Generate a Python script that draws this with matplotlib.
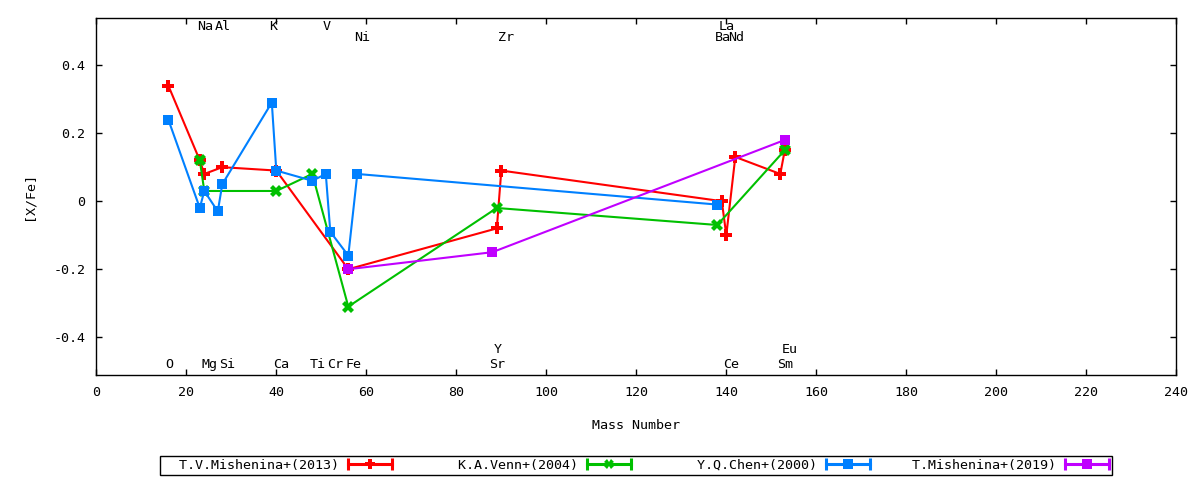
import matplotlib
matplotlib.use("Agg")
import matplotlib.pyplot as plt
from matplotlib.lines import Line2D
from matplotlib.legend_handler import HandlerLine2D, HandlerTuple

# ---- data ----
red_mass = [16, 23, 24, 28, 40, 56, 89, 90, 139, 140, 142, 152, 153]
red_val = [0.34, 0.12, 0.08, 0.10, 0.09, -0.20, -0.08, 0.09, 0.00, -0.10, 0.13, 0.08, 0.15]

green_mass = [23, 24, 40, 48, 56, 89, 138, 153]
green_val = [0.12, 0.03, 0.03, 0.08, -0.31, -0.02, -0.07, 0.15]

blue_mass = [16, 23, 24, 27, 28, 39, 40, 48, 51, 52, 56, 58, 138]
blue_val = [0.24, -0.02, 0.03, -0.03, 0.05, 0.29, 0.09, 0.06, 0.08, -0.09, -0.16, 0.08, -0.01]

purple_mass = [56, 88, 153]
purple_val = [-0.20, -0.15, 0.18]

series_names = ["T.V.Mishenina+(2013)", "K.A.Venn+(2004)", "Y.Q.Chen+(2000)", "T.Mishenina+(2019)"]

label_names = ["Na", "Al", "K", "V", "La", "Ni", "Zr", "Ba", "Nd",
               "O", "Mg", "Si", "Ca", "Ti", "Cr", "Fe", "Sr", "Ce", "Sm", "Y", "Eu"]
label_mass = [23, 27, 39, 51, 139, 58, 90, 138, 141,
              16, 24, 28, 40, 48, 52, 56, 88, 140, 152, 89, 153]
label_row = [0.502] * 5 + [0.472] * 4 + [-0.489] * 10 + [-0.447] * 2

xticks = [0, 20, 40, 60, 80, 100, 120, 140, 160, 180, 200, 220, 240]
yticks = [-0.4, -0.2, 0, 0.2, 0.4]
ytick_labels = ["-0.4", "-0.2", "0", "0.2", "0.4"]

# ---- style ----
FONT = "DejaVu Sans Mono"
FS = 9.6
plt.rcParams["font.family"] = [FONT, "DejaVu Sans"]
plt.rcParams["font.size"] = FS

colors = ["#ff0000", "#00c000", "#0080ff", "#c000ff"]
markers = ["P", "X", "s", "s"]
msizes = [8, 8, 7.5, 7.5]

fig = plt.figure(figsize=(12, 4.8), dpi=100)
ax = fig.add_axes([96.3 / 1200, 1 - 375 / 480, 1080 / 1200, (375 - 17.5) / 480])

data = [(red_mass, red_val), (green_mass, green_val), (blue_mass, blue_val), (purple_mass, purple_val)]
for i, (m, v) in enumerate(data):
    ax.plot(m, v, color=colors[i], lw=1.5, marker=markers[i], markersize=msizes[i],
            markeredgewidth=0, zorder=2 + i)

for name, m, y in zip(label_names, label_mass, label_row):
    ax.text(m - 0.65, y, name, ha="left", va="baseline", fontsize=FS, family=FONT, color="black")

ax.set_xlim(0, 240)
ax.set_ylim(-0.511, 0.54)
ax.set_xticks(xticks)
ax.set_xticklabels([str(t) for t in xticks])
ax.set_yticks(yticks)
ax.set_yticklabels(ytick_labels)
ax.tick_params(direction="in", top=True, right=True, length=4, width=1, pad=8, labelsize=FS)
for s in ax.spines.values():
    s.set_linewidth(1.0)

ax.set_xlabel("Mass Number", fontsize=FS)
ax.xaxis.set_label_coords(0.5, -0.123)
ax.set_ylabel("[X/Fe]", fontsize=FS)
ax.yaxis.set_label_coords(-0.056, 0.5)

# ---- legend ----
handles = []
hmap = {tuple: HandlerTuple(ndivide=1)}
for i in range(4):
    cap = Line2D([], [], color=colors[i], lw=2.2, marker="|", markersize=8, markeredgewidth=2.2)
    mk = Line2D([], [], color=colors[i], lw=0, marker=markers[i], markersize=7, markeredgewidth=0)
    hmap[cap] = HandlerLine2D(numpoints=2, marker_pad=0)
    hmap[mk] = HandlerLine2D(numpoints=1)
    handles.append((cap, mk))
labels = [n.rjust(22) for n in series_names]
leg = fig.legend(handles, labels, handler_map=hmap, ncol=4, markerfirst=False,
                 loc="center", bbox_to_anchor=(160 / 1200, 1 - 475 / 480, 952 / 1200, 19 / 480),
                 mode="expand", frameon=True, fancybox=False, framealpha=1, edgecolor="black",
                 borderpad=0.25, handlelength=3.24, handletextpad=0.68, columnspacing=0.5,
                 borderaxespad=0, prop={"family": FONT, "size": FS})
leg.get_frame().set_linewidth(1.0)

fig.savefig("out.png", dpi=100)
